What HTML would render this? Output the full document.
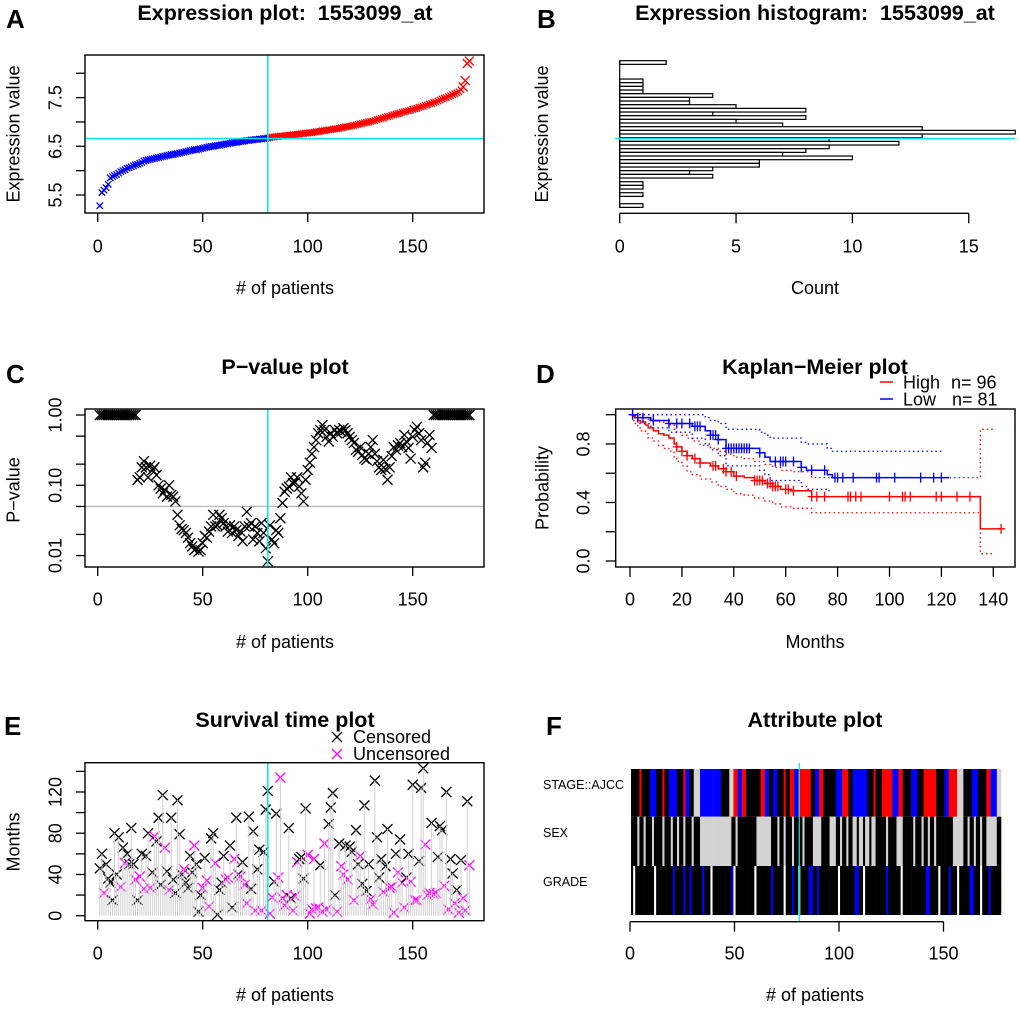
<!DOCTYPE html>
<html><head><meta charset="utf-8"><style>
html,body{margin:0;padding:0;background:#fff;}
svg{display:block;font-family:"Liberation Sans",Arial,sans-serif;}
.t{font-weight:bold;font-size:21.5px;}
.L{font-weight:bold;font-size:26px;}
.a{font-size:18px;}
</style></head><body>
<svg id="fig" width="1020" height="1010" viewBox="0 0 1020 1010" xmlns="http://www.w3.org/2000/svg">
<rect width="1020" height="1010" fill="#fff"/>
<text class="L" x="6" y="28">A</text>
<text class="t" x="285" y="20" text-anchor="middle">Expression plot:&#160; 1553099_at</text>
<text class="L" x="537" y="28">B</text>
<text class="t" x="815" y="20" text-anchor="middle">Expression histogram:&#160; 1553099_at</text>
<text class="L" x="6" y="383">C</text>
<text class="t" x="285" y="374" text-anchor="middle">P−value plot</text>
<text class="L" x="536" y="383">D</text>
<text class="t" x="815" y="374" text-anchor="middle">Kaplan−Meier plot</text>
<text class="L" x="4" y="735">E</text>
<text class="t" x="285" y="727" text-anchor="middle">Survival time plot</text>
<text class="L" x="546" y="735">F</text>
<text class="t" x="815" y="727" text-anchor="middle">Attribute plot</text>
<text class="a" x="285" y="294" text-anchor="middle"># of patients</text>
<text class="a" transform="translate(19.5,134) rotate(-90)" text-anchor="middle">Expression value</text>
<text class="a" x="815" y="294" text-anchor="middle">Count</text>
<text class="a" transform="translate(548,134) rotate(-90)" text-anchor="middle">Expression value</text>
<text class="a" x="285" y="648" text-anchor="middle"># of patients</text>
<text class="a" transform="translate(19.5,490) rotate(-90)" text-anchor="middle">P−value</text>
<text class="a" x="815" y="648" text-anchor="middle">Months</text>
<text class="a" transform="translate(548.5,488) rotate(-90)" text-anchor="middle">Probability</text>
<text class="a" x="285" y="1001" text-anchor="middle"># of patients</text>
<text class="a" transform="translate(19.5,842) rotate(-90)" text-anchor="middle">Months</text>
<text class="a" x="815" y="1001" text-anchor="middle"># of patients</text>
<line x1="880" y1="382" x2="893" y2="382" stroke="#f00" stroke-width="1.5"/>
<text class="a" x="903" y="388.5">High</text>
<text class="a" x="951" y="388.5">n= 96</text>
<line x1="880" y1="399" x2="893" y2="399" stroke="#00f" stroke-width="1.5"/>
<text class="a" x="903" y="405.5">Low</text>
<text class="a" x="952" y="405.5">n= 81</text>
<path d="M332 732L342 742M332 742L342 732" stroke="#000" stroke-width="1.3"/>
<text class="a" x="353" y="743">Censored</text>
<path d="M332 749L342 759M332 759L342 749" stroke="#f0f" stroke-width="1.3"/>
<text class="a" x="353" y="760">Uncensored</text>
<text x="543" y="789" font-size="12.5">STAGE::AJCC</text>
<text x="543" y="837" font-size="12.5">SEX</text>
<text x="543" y="886" font-size="12.5">GRADE</text>
</svg>
<script>
const exprValues=[5.28,5.55,5.6,5.65,5.72,5.85,5.88,5.9,5.92,5.95,5.98,6.0,6.02,6.05,6.06,6.08,6.1,6.12,6.13,6.15,6.17,6.2,6.21,6.22,6.23,6.24,6.25,6.26,6.27,6.28,6.29,6.3,6.31,6.32,6.33,6.33,6.34,6.35,6.36,6.37,6.38,6.39,6.4,6.41,6.42,6.43,6.43,6.44,6.45,6.46,6.47,6.48,6.49,6.5,6.5,6.51,6.52,6.52,6.53,6.54,6.55,6.55,6.56,6.57,6.58,6.58,6.59,6.6,6.6,6.61,6.62,6.62,6.63,6.63,6.64,6.64,6.65,6.65,6.66,6.66,6.67,
6.68,6.69,6.69,6.7,6.7,6.71,6.71,6.72,6.72,6.73,6.73,6.74,6.74,6.75,6.75,6.76,6.76,6.77,6.77,6.78,6.78,6.79,6.8,6.8,6.81,6.82,6.82,6.83,6.84,6.84,6.85,6.86,6.86,6.87,6.88,6.89,6.9,6.9,6.91,6.92,6.93,6.94,6.95,6.96,6.97,6.98,6.99,7.0,7.01,7.02,7.03,7.05,7.06,7.07,7.08,7.1,7.11,7.12,7.14,7.15,7.16,7.17,7.18,7.2,7.21,7.22,7.23,7.24,7.26,7.27,7.28,7.3,7.31,7.32,7.34,7.35,7.37,7.38,7.4,7.41,7.43,7.45,7.47,7.49,7.5,7.52,7.54,7.56,7.58,7.6,7.62,7.66,7.72,7.85,8.2,8.25];
const cutoffIndex=81;
const cutoffValue=6.66;
const exprTicks=[5.5,6,6.5,7,7.5,8];
const exprTickLabels=['5.5','','6.5','','7.5',''];
const patientTicks=[0,50,100,150];
const patientTickLabels=['0','50','100','150'];
const histTop=8.25, histBinWidth=0.075;
const histCounts=[2,0,0,0,0,1,1,1,1,4,3,3,5,8,4,8,5,7,13,17,13,9,12,9,8,7,10,6,6,4,3,4,0,1,1,0,1,0,0,1];
const countTicks=[0,5,10,15];
const pMid=[0.119,0.13,0.18,0.22,0.18,0.13,0.19,0.165,0.18,0.14,0.10,0.09,0.077,0.086,0.069,0.10,0.073,0.069,0.059,0.038,0.027,0.024,0.023,0.021,0.018,0.015,0.0135,0.012,0.0127,0.0114,0.012,0.015,0.019,0.018,0.022,0.026,0.038,0.026,0.027,0.038,0.034,0.029,0.026,0.022,0.027,0.021,0.026,0.023,0.019,0.022,0.016,0.026,0.042,0.026,0.029,0.017,0.026,0.021,0.016,0.029,0.021,0.0127,0.0083,0.027,0.017,0.015,0.023,0.021,0.034,0.056,0.081,0.09,0.096,0.13,0.107,0.11,0.13,0.096,0.077,0.059,0.12,0.165,0.21,0.28,0.35,0.44,0.55,0.61,0.72,0.61,0.49,0.42,0.55,0.49,0.61,0.55,0.61,0.58,0.65,0.61,0.55,0.49,0.44,0.40,0.32,0.30,0.35,0.27,0.24,0.23,0.28,0.35,0.44,0.28,0.22,0.18,0.165,0.23,0.17,0.12,0.18,0.26,0.35,0.32,0.37,0.40,0.35,0.52,0.42,0.34,0.24,0.49,0.61,0.68,0.55,0.44,0.18,0.21,0.40,0.52,0.34];
const pLeadOnes=18, pTrailOnes=18;
const pTicks=[0.01,0.02,0.05,0.1,0.2,0.5,1];
const pTickLabels=['0.01','','','0.10','','','1.00'];
const pThreshold=0.05;
const highT=[0,1,2,3,4,6,7,9,11,13,15,17,18,20,22,24,27,31,34,37,40,44,48,52,55,58,62,70,135];
const highS=[1,0.99,0.98,0.96,0.95,0.93,0.91,0.89,0.87,0.86,0.84,0.80,0.78,0.75,0.72,0.70,0.67,0.65,0.63,0.61,0.58,0.57,0.55,0.53,0.51,0.49,0.48,0.44,0.22];
const highUpper=[1,1,1,1,0.99,0.98,0.97,0.96,0.95,0.94,0.93,0.90,0.88,0.86,0.84,0.82,0.79,0.77,0.75,0.73,0.71,0.70,0.68,0.66,0.64,0.62,0.61,0.57,0.9];
const highLower=[1,0.96,0.94,0.91,0.89,0.87,0.84,0.82,0.79,0.77,0.75,0.70,0.68,0.65,0.61,0.59,0.56,0.54,0.51,0.49,0.46,0.45,0.43,0.41,0.39,0.37,0.36,0.33,0.05];
const highEnd=143, highCIEnd=140;
const highCensor=[18,20,22,25,27,32,33,36,37,39,41,48,49,50,51,53,54,55,56,57,60,61,63,70,72,75,84,85,87,89,100,105,106,108,118,120,126,131,143];
const lowT=[0,3,8,15,24,29,31,34,37,50,52,54,66,68,76,78];
const lowS=[1,0.98,0.96,0.94,0.92,0.89,0.86,0.83,0.77,0.74,0.71,0.68,0.64,0.62,0.59,0.57];
const lowUpper=[1,1,1,1,1,0.98,0.96,0.94,0.90,0.88,0.86,0.84,0.81,0.80,0.77,0.75];
const lowLower=[1,0.94,0.91,0.88,0.84,0.80,0.76,0.72,0.65,0.62,0.59,0.55,0.51,0.49,0.48,0.47];
const lowEnd=123, lowUpperEnd=120, lowLowerEnd=77;
const lowCensor=[1,3,5,9,15,18,20,23,25,26,27,31,32,33,34,37,38,39,40,41,42,43,44,45,46,50,56,58,59,60,63,66,70,75,79,80,82,86,95,96,102,112,117,120];
const monthTicks=[0,20,40,60,80,100,120,140];
const probTicks=[0,0.2,0.4,0.6,0.8,1];
const probTickLabels=['0.0','','0.4','','0.8',''];
const survMonths=[46,60,22,50,36,32,15,80,40,76,28,66,51,60,50,85,50,35,15,38,60,26,58,80,27,42,77,72,95,30,117,66,43,25,95,35,22,112,79,40,45,32,27,58,42,68,50,4,20,27,56,34,9,75,80,51,1,25,32,58,35,37,68,8,55,95,40,38,52,30,12,96,26,82,5,45,64,5,62,103,121,2,18,33,99,37,134,17,10,20,85,17,5,19,52,55,57,36,104,59,2,6,55,7,8,49,4,70,6,89,105,119,20,4,70,48,40,68,35,67,62,15,83,50,58,31,107,24,50,16,11,131,76,37,55,23,48,84,27,28,3,60,42,74,32,8,37,60,33,127,15,15,53,124,143,69,20,22,90,21,22,57,87,83,29,120,6,55,41,12,25,3,54,17,5,111,49];
const survStatus="CCUCCCCCCC"+"UCUCCCCUCU"+"CUCCUCUCCC"+"CUCUCCCCCC"+"UCCCCUCCCU"+"CUUCCUCCCC"+"UUCCUCCUCU"+"UCCCUCCUCC"+"CUUCCUUUUU"+"CCUUUCCCCU"+"UUUUUCUUUC"+"CCCUCUUCUC"+"CUCCUCCCCU"+"UCCCCUCCUU"+"UCUCUUCCUC"+"UUCCCUUUCU"+"UCCCUCUCCU"+"CUCUUCU";
const monthsTicksE=[0,20,40,60,80,100,120,140];
const monthsTickLabelsE=['0','','40','','80','','120',''];
const stageRuns="K4 R1 K4 B3 K3 R1 K2 B4 K3 R1 B2 K2 G3 B10 K4 G2 R2 B2 R2 K7 R2 B2 K2 B2 K3 R1 K2 R2 B2 R6 K2 B2 R2 K6 B3 R3 K2 B7 K3 R1 K3 R5 B3 R2 K4 B3 K3 R6 K4 B2 R4 G3 K4 B3 K4 R2 B3 G2";
const sexRuns="K3 G1 K2 G1 K3 G1 K4 G1 K3 G1 K2 G1 K2 G1 K3 G1 K3 G15 K2 G1 K9 G7 K3 G1 K2 G1 K3 G1 K4 G1 K4 G4 K4 G3 K2 G1 K2 G1 K2 G2 K1 G2 K1 G2 K1 G2 K5 G1 K4 G3 K5 G1 K3 G1 K2 G1 K2 G1 K2 K6 G5 K2 G1 K2 G1 K2 G1 K2 G5 K2";
const gradeRuns="K1 W1 K9 W1 K8 B1 K4 B1 K2 B1 K5 B1 K3 W1 K9 B1 W1 K9 W1 K7 B1 K5 W1 K3 B1 K2 W1 K4 B2 K2 B1 K9 W1 K7 B2 K2 W1 K10 B1 K6 W1 K11 B2 K4 W1 K4 B1 K3 W1 K5 B2 K3 W1 K3 B1 K5";

const NS='http://www.w3.org/2000/svg';
const svg=document.getElementById('fig');
function mk(tag,attrs,name,parent){
  const el=document.createElementNS(NS,tag);
  for(const k in attrs) el.setAttribute(k,attrs[k]);
  
  
  (parent||svg).appendChild(el);
  return el;
}
function txt(x,y,s,attrs,name){const t=mk('text',Object.assign({x:x,y:y,'font-size':18},attrs||{}),name);t.textContent=s;return t;}
function cross(g,x,y,r,col,name){mk('path',{d:`M${x-r} ${y-r}L${x+r} ${y+r}M${x-r} ${y+r}L${x+r} ${y-r}`,stroke:col,'stroke-width':1.3,fill:'none'},name,g);}
function box(x0,y0,x1,y1,name){mk('rect',{x:x0,y:y0,width:x1-x0,height:y1-y0,fill:'none',stroke:'#000','stroke-width':1.4},name);}
function xTicks(vals,labels,sx,yb,len,ly,name){
  vals.forEach((v,i)=>{mk('line',{x1:sx(v),y1:yb,x2:sx(v),y2:yb+len,stroke:'#000','stroke-width':1.3},name+'-tick');
    if(labels[i]) txt(sx(v),ly,labels[i],{'text-anchor':'middle'},name+'-label');});
}
function yTicks(vals,labels,sy,xl,len,lx,name){
  vals.forEach((v,i)=>{mk('line',{x1:xl,y1:sy(v),x2:xl-len,y2:sy(v),stroke:'#000','stroke-width':1.3},name+'-tick');
    if(labels[i]){txt(0,0,labels[i],{'text-anchor':'middle',transform:`translate(${lx},${sy(v)}) rotate(-90)`},name+'-label');}});
}
function runs(s){let out=[];s.split(' ').forEach(r=>{const c=r[0],n=+r.slice(1);for(let i=0;i<n;i++)out.push(c);});return out;}
const CYAN='#00e8f0';

// Panel A
const xA=i=>97.7+2.1*i;
const yA=v=>195-48.7*(v-5.5);
const gA=mk('g',{},'expression-points');
exprValues.forEach((v,i)=>cross(gA,xA(i+1),yA(v),(i>=173?4.5:3.2),(i<cutoffIndex?'#0000ff':'#ff0000'),'expression-point'));
mk('line',{x1:85,y1:yA(cutoffValue),x2:484,y2:yA(cutoffValue),stroke:CYAN,'stroke-width':1.5},'a-cutoff-hline');
mk('line',{x1:xA(cutoffIndex),y1:55,x2:xA(cutoffIndex),y2:213,stroke:CYAN,'stroke-width':1.5},'a-cutoff-vline');
box(85,55,484,213,'a-plot-box');
xTicks(patientTicks,patientTickLabels,xA,213,9,252.5,'a-x-axis');
yTicks(exprTicks,exprTickLabels,yA,85,9,61.5,'a-y-axis');

// Panel B
const xB=c=>619.7+23.27*c;
const binH=3.667, binTopY=60.7;
const yB=v=>binTopY+(histTop-v)/histBinWidth*binH;
histCounts.forEach((c,i)=>{ if(c>0) mk('rect',{x:xB(0),y:yB(histTop-i*histBinWidth),width:xB(c)-xB(0),height:binH,fill:'#fff',stroke:'#000','stroke-width':1.2},'histogram-bar');});
mk('line',{x1:xB(0),y1:binTopY,x2:xB(0),y2:binTopY+histCounts.length*binH,stroke:'#000','stroke-width':1.2},'histogram-baseline');
mk('line',{x1:615,y1:yB(cutoffValue),x2:1015,y2:yB(cutoffValue),stroke:CYAN,'stroke-width':1.5},'b-cutoff-line');
mk('line',{x1:xB(0),y1:213.3,x2:xB(15),y2:213.3,stroke:'#000','stroke-width':1.3},'b-x-axis-line');
xTicks(countTicks,countTicks.map(String),xB,213.3,10,252.5,'b-x-axis');

// Panel C
const yC=p=>415-70.3*Math.log10(p);
const pValues=[];
for(let i=0;i<pLeadOnes;i++)pValues.push(1);
pMid.forEach(p=>pValues.push(p));
for(let i=0;i<pTrailOnes;i++)pValues.push(1);
mk('line',{x1:85,y1:yC(pThreshold),x2:484,y2:yC(pThreshold),stroke:'#bbb','stroke-width':1.3},'p-threshold-line');
const gC=mk('g',{},'pvalue-points');
pValues.forEach((p,i)=>cross(gC,xA(i+1),yC(p),5,'#000','pvalue-point'));
mk('line',{x1:xA(cutoffIndex),y1:409,x2:xA(cutoffIndex),y2:567,stroke:CYAN,'stroke-width':1.5},'c-cutoff-vline');
box(85,409,484,567,'c-plot-box');
xTicks(patientTicks,patientTickLabels,xA,567,9,605.5,'c-x-axis');
yTicks(pTicks,pTickLabels,yC,85,9,61.5,'c-y-axis');

// Panel D
const xD=t=>630+2.595*t;
const yD=s=>561-146.3*s;
function stepPath(T,S,end){let d=`M${xD(T[0])} ${yD(S[0])}`;for(let i=1;i<T.length;i++)d+=`H${xD(T[i])}V${yD(S[i])}`;return d+`H${xD(end)}`;}
function stepAt(T,S,t){let s=S[0];for(let i=0;i<T.length;i++)if(T[i]<=t)s=S[i];return s;}
mk('path',{d:stepPath(highT,highUpper,highCIEnd),fill:'none',stroke:'#f00','stroke-width':1.3,'stroke-dasharray':'1.5 3'},'km-high-ci-upper');
mk('path',{d:stepPath(highT,highLower,highCIEnd),fill:'none',stroke:'#f00','stroke-width':1.3,'stroke-dasharray':'1.5 3'},'km-high-ci-lower');
mk('path',{d:stepPath(lowT,lowUpper,lowUpperEnd),fill:'none',stroke:'#00f','stroke-width':1.3,'stroke-dasharray':'1.5 3'},'km-low-ci-upper');
mk('path',{d:stepPath(lowT.filter(t=>t<=lowLowerEnd),lowLower,lowLowerEnd),fill:'none',stroke:'#00f','stroke-width':1.3,'stroke-dasharray':'1.5 3'},'km-low-ci-lower');
mk('path',{d:stepPath(highT,highS,highEnd),fill:'none',stroke:'#f00','stroke-width':1.5},'km-high-curve');
mk('path',{d:stepPath(lowT,lowS,lowEnd),fill:'none',stroke:'#00f','stroke-width':1.5},'km-low-curve');
highCensor.forEach(t=>{const x=xD(t),y=yD(stepAt(highT,highS,t));mk('path',{d:`M${x} ${y-5}V${y+5}M${x-4} ${y}H${x+4}`,stroke:'#f00','stroke-width':1.3},'km-high-censor');});
lowCensor.forEach(t=>{const x=xD(t),y=yD(stepAt(lowT,lowS,t));mk('path',{d:`M${x} ${y-5}V${y+5}M${x-4} ${y}H${x+4}`,stroke:'#00f','stroke-width':1.3},'km-low-censor');});
box(615.7,409,1015,567,'d-plot-box');
xTicks(monthTicks,monthTicks.map(String),xD,567,10,605.5,'d-x-axis');
yTicks(probTicks,probTickLabels,yD,615.7,10,589.5,'d-y-axis');

// Panel E
const yE=m=>915.7-1.031*m;
const gE=mk('g',{},'survival-points');
survMonths.forEach((m,i)=>mk('line',{x1:xA(i+1),y1:yE(0),x2:xA(i+1),y2:yE(m),stroke:'#d0d0d0','stroke-width':1},'survival-stem'));
survMonths.forEach((m,i)=>cross(gE,xA(i+1),yE(m),5,survStatus[i]==='C'?'#000':'#ff00ff','survival-point'));
mk('line',{x1:xA(cutoffIndex),y1:762.7,x2:xA(cutoffIndex),y2:920.7,stroke:CYAN,'stroke-width':1.5},'e-cutoff-vline');
box(85,762.7,484,920.7,'e-plot-box');
xTicks(patientTicks,patientTickLabels,xA,920.7,9,959.5,'e-x-axis');
yTicks(monthsTicksE,monthsTickLabelsE,yE,85,9,61.5,'e-y-axis');

// Panel F
const xF=i=>630+2.09*i;
const COL={K:'#000',R:'#ff0000',B:'#0000ff',G:'#d3d3d3',W:'#ffffff'};
[[stageRuns,769,816.7,'stage-cell'],[sexRuns,816.7,866,'sex-cell'],[gradeRuns,866,915,'grade-cell']].forEach(([r,y0,y1,nm])=>{
  runs(r).forEach((c,i)=>mk('rect',{x:xF(i+0.5),y:y0,width:2.09+0.3,height:y1-y0,fill:COL[c]},nm));
});
mk('line',{x1:xF(cutoffIndex),y1:763,x2:xF(cutoffIndex),y2:921,stroke:CYAN,'stroke-width':1.2},'f-cutoff-vline');
mk('line',{x1:xF(0),y1:921.7,x2:xF(150),y2:921.7,stroke:'#000','stroke-width':1.3},'f-x-axis-line');
xTicks(patientTicks,patientTickLabels,xF,921.7,10,959.5,'f-x-axis');
</script>
</body></html>
